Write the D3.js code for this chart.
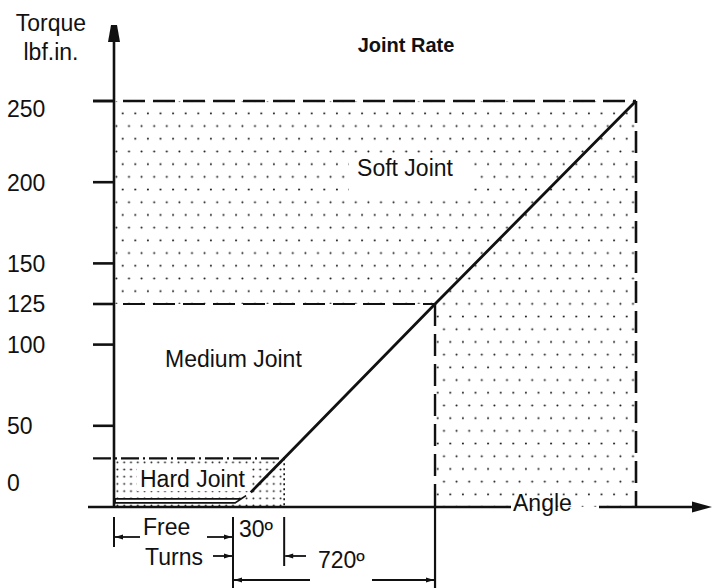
<!DOCTYPE html>
<html><head><meta charset="utf-8">
<script src="https://cdn.jsdelivr.net/npm/d3@7"></script>
<style>
body{margin:0;background:#fff}
svg{display:block}
text{font-family:"Liberation Sans",Arial,Helvetica,sans-serif;fill:#111}
</style>
</head><body><svg id="c" width="715" height="588"></svg>
<script>
// ---------- data ----------
const title = "Joint Rate";
const yAxisTitle = ["Torque", "lbf.in."];
const xAxisTitle = "Angle";
const zoneNames = ["Hard Joint", "Medium Joint", "Soft Joint"];
const zoneAngleEnd = [326, 615, 1000];      // schematic angle units
const zoneTorqueTop = [30, 125, 250];       // lbf.in.
const freeTurnsEnd = 228;
const rateAngle = [262, 326, 615, 1000];
const rateTorque = [9, 30, 125, 250];
const freeTurnAngle = [2, 243, 253, 232, 2];
const freeTurnTorque = [5, 5, 7, 2.5, 2.5];
const tickValues = [250, 200, 150, 125, 100, 50];
const tickLabels = ["250", "200", "150", "125", "100", "50", "0"];
const tickLabelAt = [245, 200, 150, 125, 100, 50, 15];
const dimLabels = ["Free", "Turns", "30º", "720º"];

// ---------- scales ----------
const svg = d3.select("#c");
const x = d3.scaleLinear().domain([0, 1000]).range([114, 636]);
const y = d3.scaleLinear().domain([0, 250]).range([507, 101]);
const ink = "#111";

// ---------- patterns ----------
const defs = svg.append("defs");
const p1 = defs.append("pattern").attr("id", "softDots").attr("patternUnits", "userSpaceOnUse")
  .attr("x", x(0)).attr("y", y(250) + 6).attr("width", 12.6).attr("height", 25.4);
p1.append("circle").attr("cx", 8.7).attr("cy", 6.3).attr("r", 1.0).attr("fill", "#111");
p1.append("circle").attr("cx", 2.4).attr("cy", 19).attr("r", 1.0).attr("fill", "#111");
const p2 = defs.append("pattern").attr("id", "hardDots").attr("patternUnits", "userSpaceOnUse")
  .attr("x", x(0)).attr("y", y(30)).attr("width", 6.8).attr("height", 7.2);
p2.append("circle").attr("cx", 3.4).attr("cy", 4).attr("r", 0.95).attr("fill", "#111");

// soft zone (L-shaped, excluding medium zone)
const soft = d3.path();
soft.moveTo(x(0), y(zoneTorqueTop[2]));
soft.lineTo(x(zoneAngleEnd[2]), y(zoneTorqueTop[2]));
soft.lineTo(x(zoneAngleEnd[2]), y(0));
soft.lineTo(x(zoneAngleEnd[1]), y(0));
soft.lineTo(x(zoneAngleEnd[1]), y(zoneTorqueTop[1]));
soft.lineTo(x(0), y(zoneTorqueTop[1]));
soft.closePath();
svg.append("path").attr("d", soft.toString()).attr("fill", "url(#softDots)");

// hard zone
svg.append("rect").attr("x", x(0)).attr("y", y(zoneTorqueTop[0]))
  .attr("width", x(zoneAngleEnd[0]) - x(0)).attr("height", y(0) - y(zoneTorqueTop[0]))
  .attr("fill", "url(#hardDots)");

// white boxes behind in-zone labels
svg.append("rect").attr("x", 349).attr("y", 156).attr("width", 122).attr("height", 40).attr("fill", "#fff");
svg.append("rect").attr("x", 137).attr("y", 464).attr("width", 112).attr("height", 27).attr("fill", "#fff");

// ---------- zone boundary lines ----------
const tickLeft = 93;
function hline(v, x2, dash, w) {
  svg.append("line").attr("x1", tickLeft).attr("x2", x2).attr("y1", y(v)).attr("y2", y(v))
    .attr("stroke", ink).attr("stroke-width", w).attr("stroke-dasharray", dash);
}
hline(zoneTorqueTop[2], x(zoneAngleEnd[2]), "22,8", 2.4);
hline(zoneTorqueTop[1], x(zoneAngleEnd[1]), "22,8", 2.2);
hline(zoneTorqueTop[0], x(zoneAngleEnd[0]), "18,4,2,4", 2.2);
// verticals
svg.append("line").attr("x1", x(zoneAngleEnd[2])).attr("x2", x(zoneAngleEnd[2]))
  .attr("y1", y(zoneTorqueTop[2])).attr("y2", y(0))
  .attr("stroke", ink).attr("stroke-width", 2.6).attr("stroke-dasharray", "22,8");
svg.append("line").attr("x1", x(zoneAngleEnd[1])).attr("x2", x(zoneAngleEnd[1]))
  .attr("y1", y(zoneTorqueTop[1])).attr("y2", y(0))
  .attr("stroke", ink).attr("stroke-width", 2.4).attr("stroke-dasharray", "22,8");
svg.append("line").attr("x1", x(zoneAngleEnd[0])).attr("x2", x(zoneAngleEnd[0]))
  .attr("y1", y(zoneTorqueTop[0])).attr("y2", y(0))
  .attr("stroke", ink).attr("stroke-width", 1.6).attr("stroke-dasharray", "2,3");

// ---------- rate line ----------
const line = d3.line().x((d, i) => x(rateAngle[i])).y((d, i) => y(rateTorque[i]));
svg.append("path").attr("d", line(rateAngle)).attr("fill", "none")
  .attr("stroke", ink).attr("stroke-width", 2.8);
// free-turn torque wedge
const wedge = d3.line().x((d, i) => x(freeTurnAngle[i])).y((d, i) => y(freeTurnTorque[i]));
svg.append("path").attr("d", wedge(freeTurnAngle) + "Z").attr("fill", "#fff")
  .attr("stroke", ink).attr("stroke-width", 1.7).attr("stroke-linejoin", "miter");

// ---------- axes ----------
svg.append("line").attr("x1", x(0)).attr("x2", x(0)).attr("y1", 38).attr("y2", y(0))
  .attr("stroke", ink).attr("stroke-width", 2.6);
svg.append("path").attr("d", `M${x(0)-3},25 L${x(0)+3},25 L${x(0)+6},42 L${x(0)-6},42 Z`).attr("fill", ink);
svg.selectAll(".tk").data(tickValues).enter().append("line")
  .attr("x1", tickLeft).attr("x2", x(0)).attr("y1", d => y(d)).attr("y2", d => y(d))
  .attr("stroke", ink).attr("stroke-width", 2.6);
svg.selectAll(".tl").data(tickLabels).enter().append("text")
  .attr("x", 7).attr("y", (d, i) => y(tickLabelAt[i]) + 8.3)
  .attr("font-size", 23).text(d => d);
const axY = y(0);
svg.append("line").attr("x1", 88).attr("x2", 511).attr("y1", axY).attr("y2", axY)
  .attr("stroke", ink).attr("stroke-width", 2.6);
svg.append("line").attr("x1", 599).attr("x2", 696).attr("y1", axY).attr("y2", axY)
  .attr("stroke", ink).attr("stroke-width", 2.6);
svg.append("path").attr("d", `M692,${axY-5.5} L712,${axY} L692,${axY+5.5} Z`).attr("fill", ink);
svg.append("text").attr("x", 513).attr("y", axY + 4).attr("font-size", 23).text(xAxisTitle);

svg.append("text").attr("x", 51).attr("y", 31).attr("text-anchor", "middle").attr("font-size", 23).text(yAxisTitle[0]);
svg.append("text").attr("x", 51).attr("y", 60).attr("text-anchor", "middle").attr("font-size", 23).text(yAxisTitle[1]);
svg.append("text").attr("x", 406).attr("y", 52).attr("text-anchor", "middle").attr("font-size", 20)
  .attr("font-weight", "bold").text(title);

svg.append("text").attr("x", 405).attr("y", 176).attr("text-anchor", "middle").attr("font-size", 23).text(zoneNames[2]);
svg.append("text").attr("x", 165).attr("y", 367).attr("font-size", 23).text(zoneNames[1]);
svg.append("text").attr("x", 140).attr("y", 487).attr("font-size", 23).text(zoneNames[0]);

// ---------- dimension lines ----------
function vline(xx, y1, y2, w) {
  svg.append("line").attr("x1", xx).attr("x2", xx).attr("y1", y1).attr("y2", y2)
    .attr("stroke", ink).attr("stroke-width", w || 2);
}
function arrow(x1, x2, yy) {
  svg.append("line").attr("x1", x1).attr("x2", x2).attr("y1", yy).attr("y2", yy)
    .attr("stroke", ink).attr("stroke-width", 1.8);
  const s = x2 > x1 ? -1 : 1;
  svg.append("path").attr("d", `M${x2},${yy} L${x2 + s*8},${yy-2.6} L${x2 + s*8},${yy+2.6} Z`).attr("fill", ink);
}
const xFree = x(freeTurnsEnd), xHard = x(zoneAngleEnd[0]), xMed = x(zoneAngleEnd[1]);
vline(x(0), 517, 547, 2);
vline(xFree, 517, 588, 2);
vline(xHard, 517, 566, 2);
vline(xMed, axY, 588, 2.2);
arrow(140, x(0) + 1, 537);
arrow(207, xFree - 1, 537);
arrow(213, xFree - 1, 556);
arrow(306, xHard + 1, 556);
arrow(310, xFree + 1, 580);
arrow(372, xMed - 1, 580);
svg.append("text").attr("x", 143).attr("y", 535).attr("font-size", 23).text(dimLabels[0]);
svg.append("text").attr("x", 145).attr("y", 565).attr("font-size", 23).text(dimLabels[1]);
svg.append("text").attr("x", 239).attr("y", 537).attr("font-size", 23).text(dimLabels[2]);
svg.append("text").attr("x", 318).attr("y", 568).attr("font-size", 23).text(dimLabels[3]);
</script>
</body></html>
